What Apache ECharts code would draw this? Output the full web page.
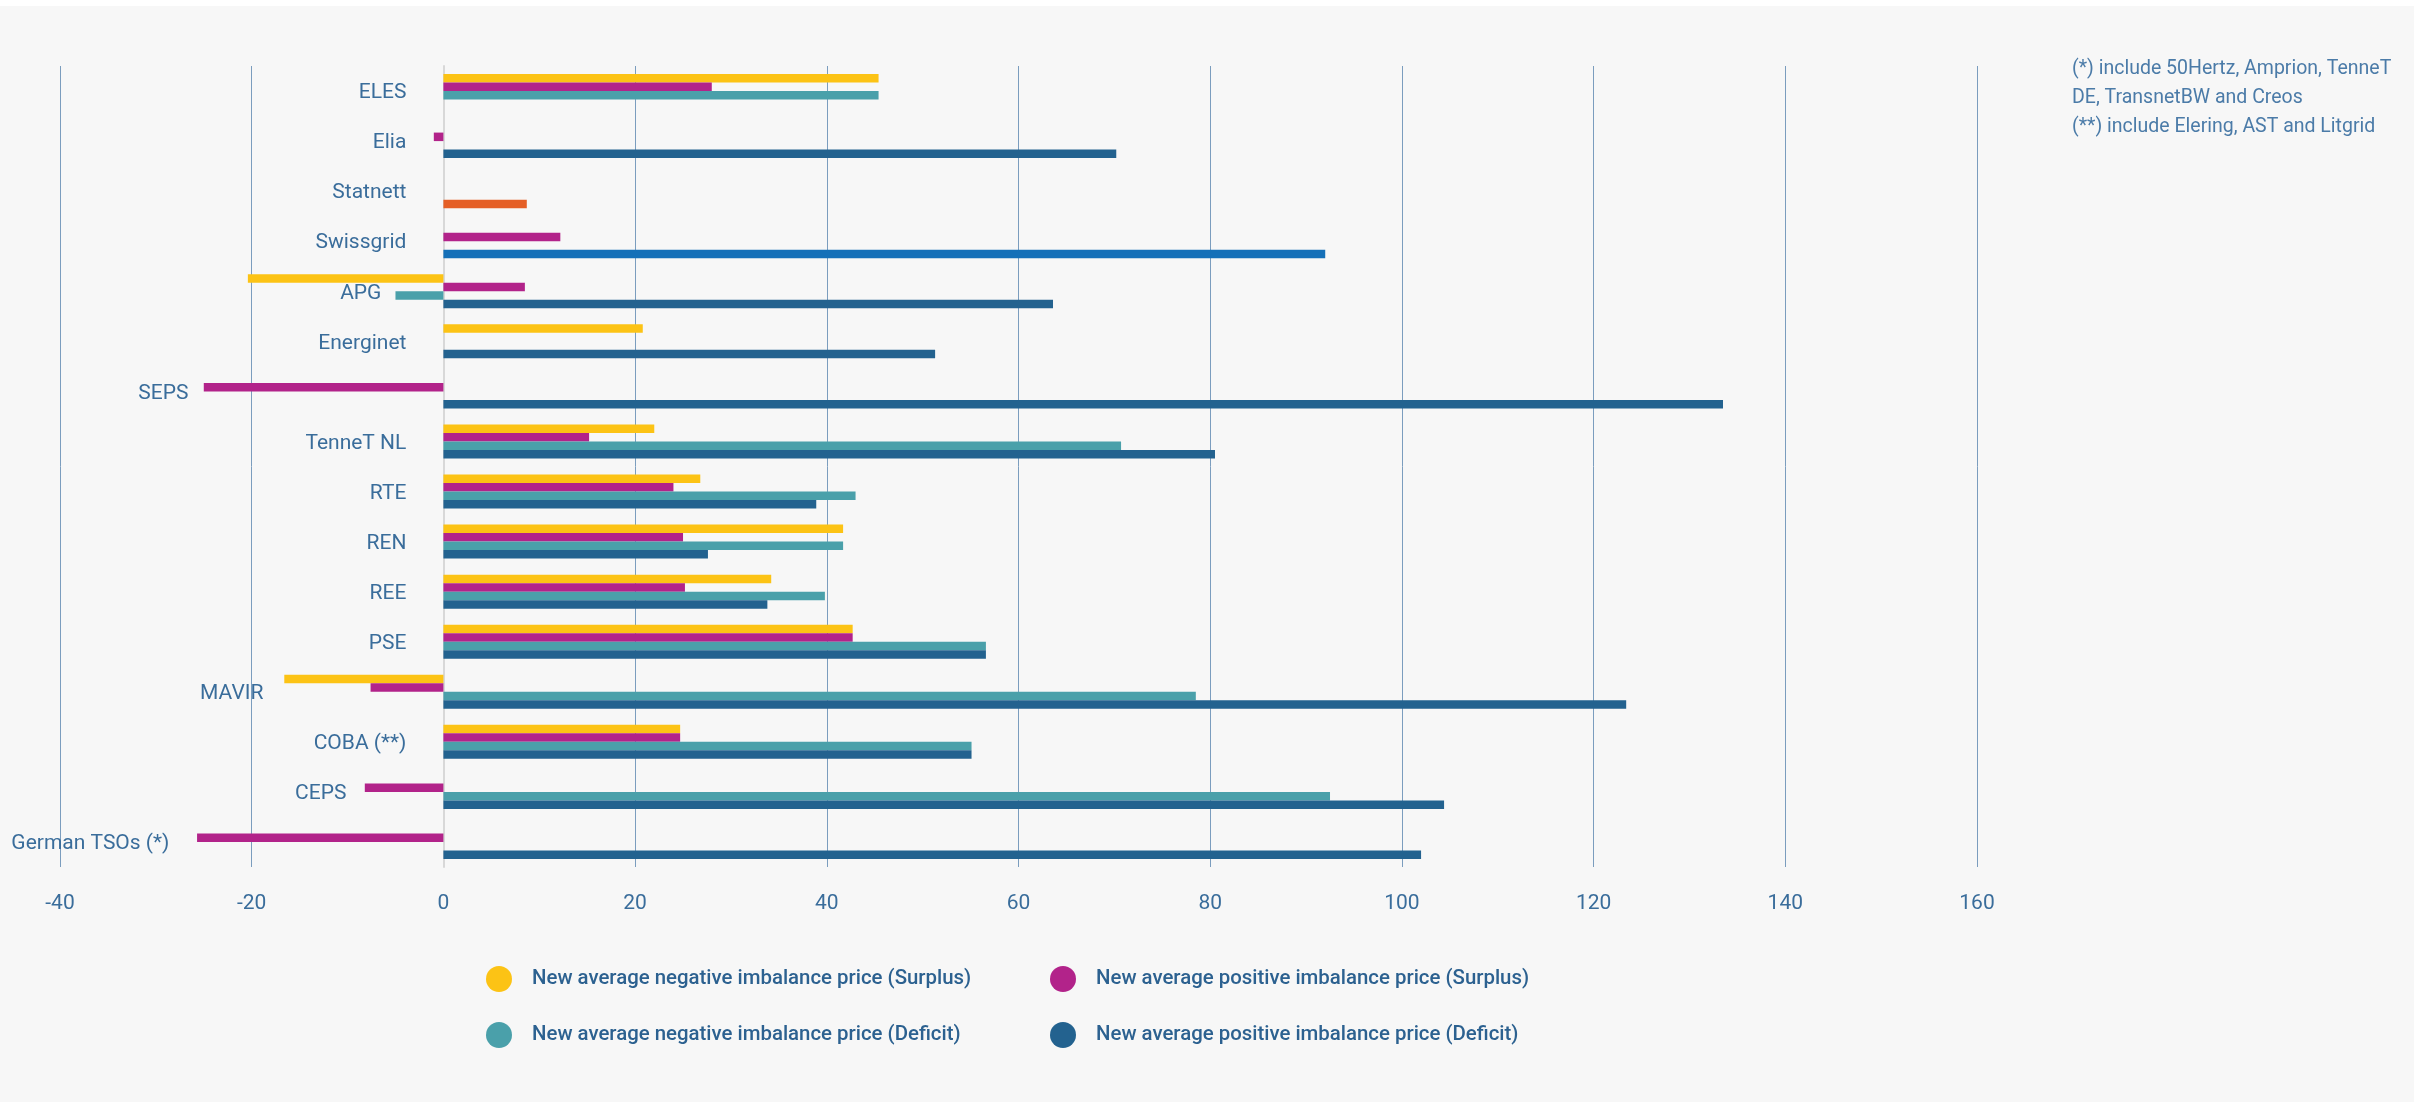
<!DOCTYPE html>
<html>
<head>
<meta charset="utf-8">
<script src="https://cdn.jsdelivr.net/npm/echarts@6/dist/echarts.min.js"></script>
<style>
  html, body { margin: 0; padding: 0; background: #ffffff; }
  #chart { width: 2414px; height: 1108px; }
</style>
</head>
<body>
<div id="chart"></div>
<script>
// ---- data (top to bottom) ----
var categories = ['ELES', 'Elia', 'Statnett', 'Swissgrid', 'APG', 'Energinet', 'SEPS', 'TenneT NL', 'RTE', 'REN', 'REE', 'PSE', 'MAVIR', 'COBA (**)', 'CEPS', 'German TSOs (*)'];
var negSurplus = [45.4, null, null, null, -20.4, 20.8, null, 22.0, 26.8, 41.7, 34.2, 42.7, -16.6, 24.7, null, null];
var posSurplus = [28.0, -1.0, null, 12.2, 8.5, null, -25.0, 15.2, 24.0, 25.0, 25.2, 42.7, -7.6, 24.7, -8.2, -25.7];
var negDeficit = [45.4, null, null, null, -5.0, null, null, 70.7, 43.0, 41.7, 39.8, 56.6, 78.5, 55.1, 92.5, null];
var posDeficit = [null, 70.2, 8.7, 92.0, 63.6, 51.3, 133.5, 80.5, 38.9, 27.6, 33.8, 56.6, 123.4, 55.1, 104.4, 102.0];
var seriesNames = [
  'New average negative imbalance price (Surplus)',
  'New average positive imbalance price (Surplus)',
  'New average negative imbalance price (Deficit)',
  'New average positive imbalance price (Deficit)'
];
var xTicks = { min: -40, max: 160, interval: 20 };
var notes = ['(*) include 50Hertz, Amprion, TenneT', 'DE, TransnetBW and Creos', '(**) include Elering, AST and Litgrid'];

// ---- styles ----
var colors = ['#fcc315', '#b2238a', '#4aa0aa', '#23628f'];
var itemColorOverride = { 'Statnett': '#e55f26', 'Swissgrid': '#1570b8' };
var labelShiftPx = { 'APG': 25, 'SEPS': 218, 'MAVIR': 143, 'CEPS': 60, 'German TSOs (*)': 237 };
var textColor = '#3a6d9b';
var fontFamily = 'Roboto, "Noto Sans", sans-serif';
var gridLeft = 60;
var labelGap = 37;

function buildData(values, seriesIdx) {
  return values.map(function (v, i) {
    var c = categories[i];
    if (seriesIdx === 3 && itemColorOverride[c]) {
      return { value: v, itemStyle: { color: itemColorOverride[c] } };
    }
    return v;
  });
}

var rich = {};
categories.forEach(function (c, i) {
  rich['s' + i] = {
    fontSize: 21, fontFamily: fontFamily, color: textColor,
    padding: [4, labelShiftPx[c] || 0, 0, 0]
  };
});

var allValues = [negSurplus, posSurplus, negDeficit, posDeficit];
var series = allValues.map(function (vals, k) {
  return {
    name: seriesNames[k],
    type: 'bar',
    data: buildData(vals, k),
    barGap: '0%',
    barCategoryGap: '32%',
    itemStyle: { color: colors[k] },
    animation: false
  };
});

var legendPos = [[481, 961], [1045, 961], [481, 1017], [1045, 1017]];
var legends = seriesNames.map(function (n, k) {
  return {
    data: [{ name: n, icon: 'circle', itemStyle: { color: colors[k] } }],
    left: legendPos[k][0], top: legendPos[k][1],
    itemWidth: 56, itemHeight: 26,
    selectedMode: false,
    textStyle: { color: '#2c6190', fontSize: 20.4, fontWeight: 500, fontFamily: fontFamily }
  };
});

var chart = echarts.init(document.getElementById('chart'), null, { renderer: 'canvas' });
chart.setOption({
  backgroundColor: '#f7f7f7',
  animation: false,
  textStyle: { fontFamily: fontFamily },
  grid: { left: gridLeft, right: 437, top: 66, bottom: 241, containLabel: false, outerBoundsMode: 'none' },
  xAxis: {
    type: 'value',
    min: xTicks.min, max: xTicks.max, interval: xTicks.interval,
    axisLine: { show: false },
    axisTick: { show: false },
    splitLine: { show: true, lineStyle: { color: '#7b9dbe', width: 1 } },
    axisLabel: { color: textColor, fontSize: 21, fontFamily: fontFamily, margin: 26 }
  },
  yAxis: {
    type: 'category',
    data: categories,
    inverse: true,
    axisLine: { show: true, onZero: true, lineStyle: { color: '#d8d8d8', width: 2 } },
    axisTick: { show: false },
    splitLine: { show: false },
    axisLabel: {
      margin: labelGap,
      fontSize: 21, color: textColor, fontFamily: fontFamily,
      formatter: function (value, idx) { return '{s' + idx + '|' + value + '}'; },
      rich: rich
    }
  },
  legend: legends,
  graphic: [
    { type: 'rect', left: 0, top: 0, shape: { width: 2414, height: 6 }, style: { fill: '#ffffff' }, silent: true },
    { type: 'rect', left: 0, top: 1102, shape: { width: 2414, height: 6 }, style: { fill: '#ffffff' }, silent: true },
    {
      type: 'text', left: 2072, top: 55,
      style: { text: notes.join('\n'), fill: '#4b7ba8', fontSize: 19.5, lineHeight: 29, fontFamily: fontFamily }
    }
  ],
  series: series
});

// place the category labels next to the zero line (as in the reference)
var zeroX = chart.convertToPixel({ xAxisIndex: 0 }, 0);
chart.setOption({ yAxis: { axisLabel: { margin: labelGap - (zeroX - gridLeft) } } });
</script>
</body>
</html>
